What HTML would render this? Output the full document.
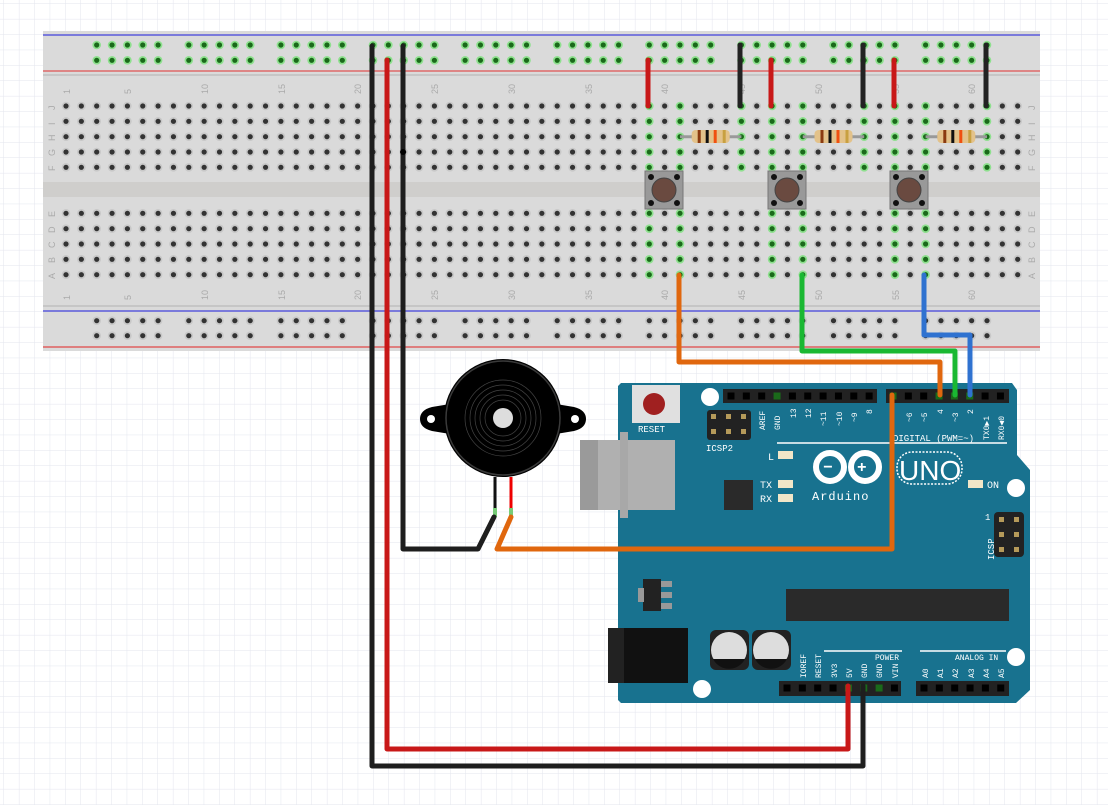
<!DOCTYPE html>
<html><head><meta charset="utf-8"><style>
html,body{margin:0;padding:0;background:#fff;}
svg{display:block;font-family:"Liberation Mono",monospace;}
</style></head><body>
<svg id="s" width="1108" height="805" viewBox="0 0 1108 805" xmlns="http://www.w3.org/2000/svg">
<defs>
<pattern id="g" width="15.4" height="15.4" patternUnits="userSpaceOnUse" x="4" y="4">
<path d="M15.4 0V15.4H0" fill="none" stroke="#e3e5ee" stroke-width="1"/>
</pattern>
</defs>
<rect width="1108" height="805" fill="url(#g)"/>
<rect x="43" y="31" width="997" height="320" fill="#dadada"/>
<rect x="43" y="182" width="997" height="15" fill="#cfcecc"/>
<line x1="43" y1="75" x2="1040" y2="75" stroke="#c6c6c6" stroke-width="2"/>
<line x1="43" y1="306" x2="1040" y2="306" stroke="#c6c6c6" stroke-width="2"/>
<line x1="43" y1="35" x2="1040" y2="35" stroke="#1a1adc" stroke-width="1"/>
<line x1="43" y1="71" x2="1040" y2="71" stroke="#e03030" stroke-width="1"/>
<line x1="43" y1="311" x2="1040" y2="311" stroke="#1a1adc" stroke-width="1"/>
<line x1="43" y1="347" x2="1040" y2="347" stroke="#e06060" stroke-width="1.5"/>
<g id="holes"></g>
<g fill="#aaa" font-family="Liberation Sans,sans-serif" font-size="9">
<g transform="translate(70,94) rotate(-90)"><text>1</text></g>
<g transform="translate(131,94) rotate(-90)"><text>5</text></g>
<g transform="translate(208,94) rotate(-90)"><text>10</text></g>
<g transform="translate(285,94) rotate(-90)"><text>15</text></g>
<g transform="translate(361,94) rotate(-90)"><text>20</text></g>
<g transform="translate(438,94) rotate(-90)"><text>25</text></g>
<g transform="translate(515,94) rotate(-90)"><text>30</text></g>
<g transform="translate(592,94) rotate(-90)"><text>35</text></g>
<g transform="translate(668,94) rotate(-90)"><text>40</text></g>
<g transform="translate(745,94) rotate(-90)"><text>45</text></g>
<g transform="translate(822,94) rotate(-90)"><text>50</text></g>
<g transform="translate(899,94) rotate(-90)"><text>55</text></g>
<g transform="translate(975,94) rotate(-90)"><text>60</text></g>
<g transform="translate(70,300) rotate(-90)"><text>1</text></g>
<g transform="translate(131,300) rotate(-90)"><text>5</text></g>
<g transform="translate(208,300) rotate(-90)"><text>10</text></g>
<g transform="translate(285,300) rotate(-90)"><text>15</text></g>
<g transform="translate(361,300) rotate(-90)"><text>20</text></g>
<g transform="translate(438,300) rotate(-90)"><text>25</text></g>
<g transform="translate(515,300) rotate(-90)"><text>30</text></g>
<g transform="translate(592,300) rotate(-90)"><text>35</text></g>
<g transform="translate(668,300) rotate(-90)"><text>40</text></g>
<g transform="translate(745,300) rotate(-90)"><text>45</text></g>
<g transform="translate(822,300) rotate(-90)"><text>50</text></g>
<g transform="translate(899,300) rotate(-90)"><text>55</text></g>
<g transform="translate(975,300) rotate(-90)"><text>60</text></g>
<g transform="translate(55,110) rotate(-90)"><text>J</text></g>
<g transform="translate(55,125) rotate(-90)"><text>I</text></g>
<g transform="translate(55,141) rotate(-90)"><text>H</text></g>
<g transform="translate(55,156) rotate(-90)"><text>G</text></g>
<g transform="translate(55,171) rotate(-90)"><text>F</text></g>
<g transform="translate(55,217) rotate(-90)"><text>E</text></g>
<g transform="translate(55,233) rotate(-90)"><text>D</text></g>
<g transform="translate(55,248) rotate(-90)"><text>C</text></g>
<g transform="translate(55,263) rotate(-90)"><text>B</text></g>
<g transform="translate(55,279) rotate(-90)"><text>A</text></g>
<g transform="translate(1035,110) rotate(-90)"><text>J</text></g>
<g transform="translate(1035,125) rotate(-90)"><text>I</text></g>
<g transform="translate(1035,141) rotate(-90)"><text>H</text></g>
<g transform="translate(1035,156) rotate(-90)"><text>G</text></g>
<g transform="translate(1035,171) rotate(-90)"><text>F</text></g>
<g transform="translate(1035,217) rotate(-90)"><text>E</text></g>
<g transform="translate(1035,233) rotate(-90)"><text>D</text></g>
<g transform="translate(1035,248) rotate(-90)"><text>C</text></g>
<g transform="translate(1035,263) rotate(-90)"><text>B</text></g>
<g transform="translate(1035,279) rotate(-90)"><text>A</text></g>
</g>
<g id="res"></g>
<g id="btn"></g>
<g stroke-linecap="round" stroke-width="5">
<g stroke="#222"><line x1="740" y1="45" x2="740" y2="106"/><line x1="863" y1="45" x2="863" y2="106"/><line x1="986" y1="45" x2="986" y2="106"/></g>
<g stroke="#c81818"><line x1="648" y1="60" x2="648" y2="106"/><line x1="771" y1="60" x2="771" y2="106"/><line x1="894" y1="60" x2="894" y2="106"/></g>
</g>

<path d="M621 383 H1012 L1017 390 V455 L1030 470 V690 L1016 703 H621 L618 700 V386 Z" fill="#18728f"/>
<rect x="580" y="440" width="95" height="70" fill="#b0b0b0"/>
<rect x="580" y="440" width="18" height="70" fill="#9a9a9a"/>
<rect x="620" y="432" width="8" height="86" fill="#a8a8a8"/>
<rect x="632" y="385" width="48" height="38" fill="#e0e0e0"/>
<circle cx="654" cy="404" r="11" fill="#a02020"/>
<text x="638" y="432" font-size="9" fill="#fff">RESET</text>
<rect x="707" y="410" width="44" height="30" rx="3" fill="#222"/>
<g fill="#b59a5a"><rect x="711" y="414" width="5" height="5"/><rect x="726" y="414" width="5" height="5"/><rect x="741" y="414" width="5" height="5"/><rect x="711" y="429" width="5" height="5"/><rect x="726" y="429" width="5" height="5"/><rect x="741" y="429" width="5" height="5"/></g>
<text x="706" y="451" font-size="9" fill="#fff">ICSP2</text>
<g fill="#fff"><circle cx="710" cy="397" r="9"/><circle cx="1016" cy="488" r="9"/><circle cx="1016" cy="657" r="9"/><circle cx="702" cy="689" r="9"/></g>
<rect x="723" y="389" width="154" height="14" fill="#222"/>
<rect x="886" y="389" width="123" height="14" fill="#222"/>
<rect x="779" y="681" width="122" height="15" fill="#222"/>
<rect x="916" y="681" width="93" height="15" fill="#222"/>
<g id="pins"></g>
<line x1="777" y1="443" x2="1007" y2="443" stroke="#fff" stroke-width="1.5"/>
<line x1="824" y1="651" x2="902" y2="651" stroke="#fff" stroke-width="1.5"/>
<line x1="920" y1="651" x2="1006" y2="651" stroke="#fff" stroke-width="1.5"/>
<text x="893" y="441" font-size="9" fill="#fff">DIGITAL (PWM=~)</text>
<text x="875" y="660" font-size="8" fill="#fff">POWER</text>
<text x="955" y="660" font-size="8" fill="#fff">ANALOG IN</text>
<g font-size="8" fill="#fff">
<g transform="translate(765,430) rotate(-90)"><text>AREF</text></g>
<g transform="translate(780,430) rotate(-90)"><text>GND</text></g>
<g transform="translate(796,418) rotate(-90)"><text>13</text></g>
<g transform="translate(811,418) rotate(-90)"><text>12</text></g>
<g transform="translate(826,426) rotate(-90)"><text>~11</text></g>
<g transform="translate(842,426) rotate(-90)"><text>~10</text></g>
<g transform="translate(857,422) rotate(-90)"><text>~9</text></g>
<g transform="translate(872,414) rotate(-90)"><text>8</text></g>
<g transform="translate(912,422) rotate(-90)"><text>~6</text></g>
<g transform="translate(927,422) rotate(-90)"><text>~5</text></g>
<g transform="translate(943,414) rotate(-90)"><text>4</text></g>
<g transform="translate(958,422) rotate(-90)"><text>~3</text></g>
<g transform="translate(973,414) rotate(-90)"><text>2</text></g>
<g transform="translate(989,440) rotate(-90)"><text>TX0▶1</text></g>
<g transform="translate(1004,440) rotate(-90)"><text>RX0◀0</text></g>
<g transform="translate(806,678) rotate(-90)"><text>IOREF</text></g>
<g transform="translate(821,678) rotate(-90)"><text>RESET</text></g>
<g transform="translate(837,678) rotate(-90)"><text>3V3</text></g>
<g transform="translate(852,678) rotate(-90)"><text>5V</text></g>
<g transform="translate(867,678) rotate(-90)"><text>GND</text></g>
<g transform="translate(882,678) rotate(-90)"><text>GND</text></g>
<g transform="translate(898,678) rotate(-90)"><text>VIN</text></g>
<g transform="translate(928,678) rotate(-90)"><text>A0</text></g>
<g transform="translate(943,678) rotate(-90)"><text>A1</text></g>
<g transform="translate(958,678) rotate(-90)"><text>A2</text></g>
<g transform="translate(974,678) rotate(-90)"><text>A3</text></g>
<g transform="translate(989,678) rotate(-90)"><text>A4</text></g>
<g transform="translate(1004,678) rotate(-90)"><text>A5</text></g>
<g transform="translate(994,560) rotate(-90)"><text font-size="9">ICSP</text></g>
</g>
<text x="985" y="520" font-size="9" fill="#fff">1</text>
<rect x="994" y="512" width="30" height="45" rx="4" fill="#222"/>
<g fill="#b59a5a"><rect x="999" y="517" width="5" height="5"/><rect x="1014" y="517" width="5" height="5"/><rect x="999" y="532" width="5" height="5"/><rect x="1014" y="532" width="5" height="5"/><rect x="999" y="547" width="5" height="5"/><rect x="1014" y="547" width="5" height="5"/></g>
<text x="768" y="460" font-size="10" fill="#fff">L</text>
<text x="760" y="488" font-size="10" fill="#fff">TX</text>
<text x="760" y="502" font-size="10" fill="#fff">RX</text>
<g fill="#f1e6c8"><rect x="778" y="451" width="15" height="8"/><rect x="778" y="480" width="15" height="8"/><rect x="778" y="494" width="15" height="8"/><rect x="968" y="480" width="15" height="8"/></g>
<text x="987" y="488" font-size="10" fill="#fff">ON</text>
<rect x="724" y="480" width="29" height="30" fill="#2a2a2a"/>
<rect x="786" y="589" width="223" height="32" fill="#2a2a2a"/>
<rect x="643" y="579" width="18" height="32" fill="#222"/>
<rect x="638" y="588" width="6" height="14" fill="#999"/>
<g fill="#999"><rect x="661" y="581" width="11" height="6"/><rect x="661" y="592" width="11" height="6"/><rect x="661" y="603" width="11" height="6"/></g>
<rect x="608" y="628" width="80" height="55" fill="#111"/>
<rect x="608" y="628" width="16" height="55" fill="#222"/>
<g><rect x="710" y="630" width="39" height="40" rx="6" fill="#222"/><circle cx="729" cy="650" r="18" fill="#ddd"/><path d="M713 659 A18 18 0 0 0 745 659 Z" fill="#111"/></g>
<g><rect x="752" y="630" width="39" height="40" rx="6" fill="#222"/><circle cx="771" cy="650" r="18" fill="#ddd"/><path d="M755 659 A18 18 0 0 0 787 659 Z" fill="#111"/></g>
<g fill="none" stroke="#fff" stroke-width="6"><circle cx="830" cy="467" r="14"/><circle cx="865" cy="467" r="14"/></g>
<text x="823" y="472" font-size="16" font-weight="bold" fill="#fff">−</text>
<text x="857" y="472" font-size="16" font-weight="bold" fill="#fff">+</text>
<text x="812" y="500" font-size="12" fill="#fff" letter-spacing="1">Arduino</text>
<rect x="897" y="452" width="65" height="32" rx="15" fill="none" stroke="#fff" stroke-width="1.5" stroke-dasharray="2 1.5"/>
<text x="899" y="480" font-family="Liberation Sans,sans-serif" font-size="28" fill="#fff">UNO</text>

<!-- buzzer -->
<path d="M450 404 L432 407 Q420 410 420 419 Q420 428 432 431 L450 434 Z" fill="#000"/>
<path d="M556 404 L574 407 Q586 410 586 419 Q586 428 574 431 L556 434 Z" fill="#000"/>
<circle cx="431" cy="419" r="4" fill="#fff"/><circle cx="575" cy="419" r="4" fill="#fff"/>
<circle cx="503" cy="418" r="59" fill="#000"/>
<circle cx="503" cy="418" r="57" fill="none" stroke="#3a3a3a" stroke-width="1.5"/>
<g fill="none" stroke="#444" stroke-width="0.7"><circle cx="503" cy="418" r="38"/><circle cx="503" cy="418" r="33"/><circle cx="503" cy="418" r="28"/><circle cx="503" cy="418" r="23"/><circle cx="503" cy="418" r="18"/></g>
<circle cx="503" cy="418" r="10" fill="#ddd"/>
<line x1="495" y1="477" x2="495" y2="515" stroke="#111" stroke-width="3"/>
<line x1="511" y1="477" x2="511" y2="515" stroke="#e00" stroke-width="3"/>
<rect x="493" y="508" width="4" height="9" fill="#7c7"/><rect x="509" y="508" width="4" height="9" fill="#7c7"/>

<g fill="none" stroke-width="5" stroke-linejoin="round" stroke-linecap="round">
<polyline stroke="#1e1e1e" points="372,46 372,766 863,766 863,686"/>
<polyline stroke="#c81818" points="387,60 387,749 848,749 848,686"/>
<polyline stroke="#1e1e1e" points="403,46 403,549 478,549 494,517"/>
<polyline stroke="#e0670e" points="679,275 679,362 940,362 940,395"/>
<polyline stroke="#1ab832" points="802,275 802,351 955,351 955,395"/>
<polyline stroke="#2f72d0" points="924,275 924,335 970,335 970,395"/>
<polyline stroke="#e0670e" points="892,395 892,549 497,549 511,517"/>
</g>
<circle cx="403" cy="152" r="3" fill="#000"/>
</svg>
<script>
var NS="http://www.w3.org/2000/svg";
function el(p,t,a){var e=document.createElementNS(NS,t);for(var k in a)e.setAttribute(k,a[k]);p.appendChild(e);return e;}
var H=document.getElementById("holes");
function cx(c){return 66+(c-1)*15.35;}
function hole(x,y,g){el(H,"circle",{cx:x,cy:y,r:4.3,fill:g?"#8ee08e":"#c8c8c8"});el(H,"circle",{cx:x,cy:y,r:2.6,fill:g?"#1a6a1a":"#333"});}
var topG=[39,41,45,47,49,53,55,57,61], botG=[39,41,47,49,55,57];
for(var c=1;c<=63;c++){
 [106,121.3,136.7,152,167.3].forEach(function(y){hole(cx(c),y,topG.indexOf(c)>=0);});
 [213.3,228.7,244,259.3,274.7].forEach(function(y){hole(cx(c),y,botG.indexOf(c)>=0);});
 var m=(c-3)%6; if(c>=3&&c<=61&&m<5){hole(cx(c),45,true);hole(cx(c),60.3,true);hole(cx(c),320.7,false);hole(cx(c),335.7,false);}
}
var R=document.getElementById("res");
[[41,45],[49,53],[57,61]].forEach(function(p){var a=cx(p[0]),b=cx(p[1]),m=(a+b)/2;
 el(R,"line",{x1:a,y1:136.7,x2:b,y2:136.7,stroke:"#999","stroke-width":3});
 el(R,"rect",{x:m-19,y:130,width:38,height:13,rx:4,fill:"#e3c28a"});
 [[-13,"#8a3a10"],[-5,"#111"],[3,"#f05010"],[12,"#c8a040"]].forEach(function(q){el(R,"rect",{x:m+q[0],y:130,width:3,height:13,fill:q[1]});});
});
var B=document.getElementById("btn");
[664,787,909].forEach(function(x){
 el(B,"rect",{x:x-19,y:171,width:38,height:38,fill:"#999",stroke:"#777"});
 el(B,"circle",{cx:x,cy:190,r:12,fill:"#6a4a40",stroke:"#444"});
 [[-13,-13],[13,-13],[-13,13],[13,13]].forEach(function(d){el(B,"circle",{cx:x+d[0],cy:190+d[1],r:3,fill:"#111"});});
});
var P=document.getElementById("pins");
function pins(x0,n,y,gs){for(var i=0;i<n;i++){var x=x0+i*15.35;el(P,"rect",{x:x-3.5,y:y-3.5,width:7,height:7,fill:gs&&gs.indexOf(i)>=0?"#1a6a1a":"#000"});}}
pins(731,10,396,[3]);pins(893,8,396,[0,3,4,5]);pins(787,8,688,[4,5,6]);pins(924,6,688,[]);
</script>
</body></html>
